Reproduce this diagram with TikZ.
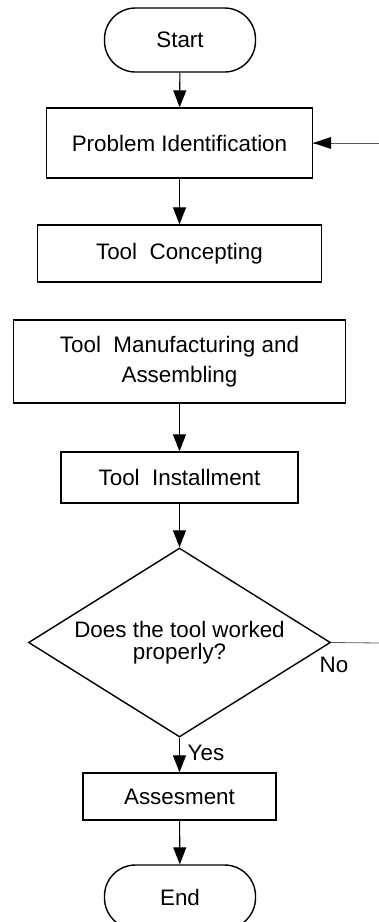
\documentclass[tikz,border=0pt]{standalone}
\usepackage{fontspec}
\setmainfont{Liberation Sans}
\usetikzlibrary{arrows.meta,shapes.geometric}
\begin{document}
\begin{tikzpicture}[x=1pt,y=-1pt,
  every node/.style={font=\fontsize{22.4}{22}\selectfont, inner sep=0pt},
  procbox/.style={draw, line width=1.4pt, rectangle, align=center},
  termbox/.style={draw, line width=1.4pt, rectangle, rounded corners=31pt,
    minimum width=151pt, minimum height=64pt},
  decbox/.style={draw, line width=1.4pt, diamond, aspect=1.6,
    minimum width=302pt, minimum height=189pt, align=center},
  flow/.style={line width=1.1pt, -{Triangle[length=17pt,width=13pt]}},
  loopline/.style={line width=0.8pt, draw=black!65}]
  \useasboundingbox (0,0) rectangle (379,922);

  % process steps
  \node[termbox] (start) at (180,40) {Start};
  \node[procbox, minimum width=266pt, minimum height=70pt] (ident) at (179.5,143) {Problem Identification};
  \node[procbox, minimum width=284pt, minimum height=57pt] (concept) at (179.5,253.5) {Tool~~Concepting};
  \node[procbox, minimum width=332pt, minimum height=83pt,
        font=\fontsize{22.4}{29.5}\selectfont] (manuf) at (179.5,361.5) {Tool~~Manufacturing and\\Assembling};
  \node[procbox, minimum width=237pt, minimum height=51pt] (install) at (179.5,477.5) {Tool~~Installment};
  \node[decbox] (check) at (179.5,642.5) {Does the tool worked\\properly?};
  \node[procbox, minimum width=193pt, minimum height=47pt] (assess) at (179.5,796.5) {Assesment};
  \node[termbox] (finish) at (180,897) {End};

  % loop ends leaving the page on the right
  \coordinate (backin) at (380,143);
  \coordinate (backout) at (380,643);

  % connectors
  \draw[flow] (start) -- (ident);
  \draw[flow] (ident) -- (concept);
  \draw[flow] (manuf) -- (install);
  \draw[flow] (install) -- (check.north);
  \draw[flow] (check.south) -- (assess);
  \draw[flow] (assess) -- (finish);
  \draw[loopline] (check.east) -- (backout);
  \draw[loopline] (backin) -- (ident.east);
  \fill (ident.east) -- ++(18,-6) -- ++(0,12) -- cycle;

  % branch labels
  \node (nolbl) at (334,665) {No};
  \node (yeslbl) at (206,753) {Yes};
\end{tikzpicture}
\end{document}
